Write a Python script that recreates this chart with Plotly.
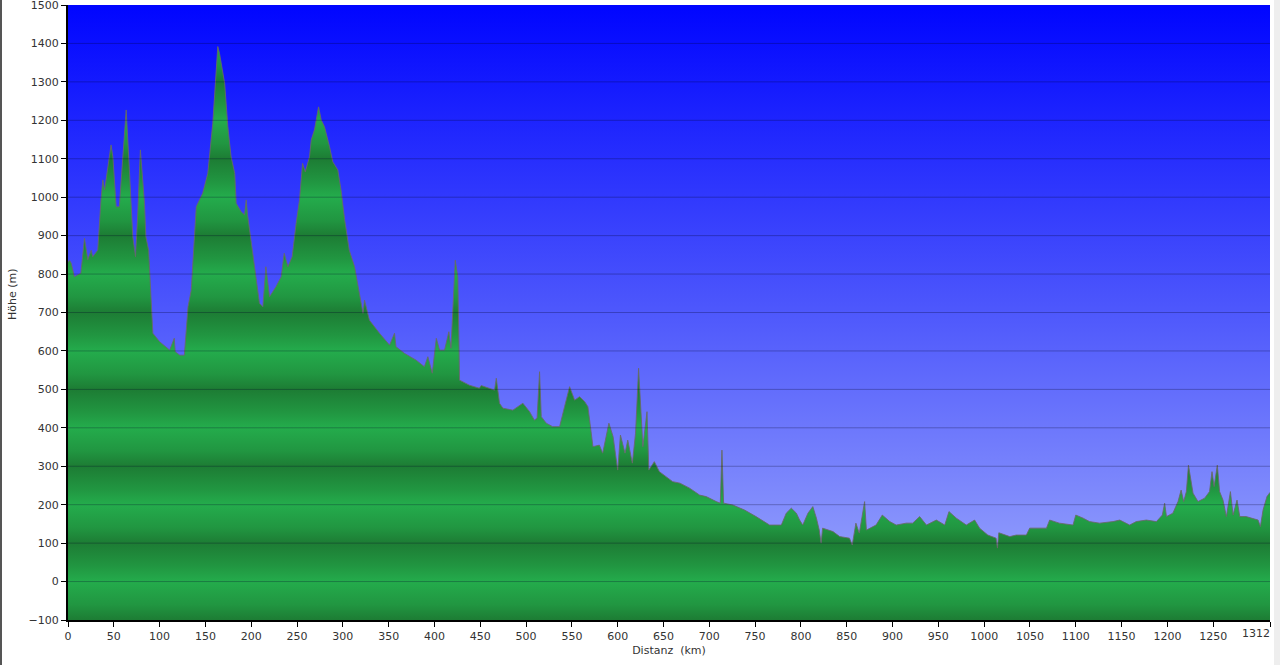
import plotly.graph_objects as go

# ---- data ----
distance_km = [
    0, 1.6, 3.5, 7, 14, 18, 21.6, 25.3, 27, 32.5, 36, 38, 40, 47, 49, 52.6, 56, 59, 63.5, 67,
    70.7, 73.7, 76, 79, 83.5, 85, 88, 92.6, 100, 111, 116, 117, 122, 127, 131, 134.5, 140, 143.5,
    147, 152.6, 158, 163.5, 165.4, 171, 174.5, 178, 182, 183.6, 189, 192.7, 194.5, 196, 200,
    203.6, 209, 212.7, 216, 220, 227, 232.7, 236, 240, 244.7, 249, 252.7, 256, 259, 263.6, 265.5,
    269, 273.5, 276.4, 280, 285.5, 289, 294.5, 298, 302, 307, 312.8, 318, 322, 323.7, 329, 340,
    351, 356.4, 358, 367, 380, 389, 392.8, 397.6, 402, 405.6, 411, 415.7, 418, 422.7, 425.5,
    427.4, 438, 449, 451, 465.6, 467.5, 471, 474.7, 485.6, 496.5, 503.8, 509, 512, 514.7, 516.6,
    522, 529, 536.6, 542, 547.5, 553, 558.4, 564, 567.5, 573, 580, 583.6, 590.4, 595, 600, 603,
    608, 611, 616, 619.5, 622.8, 627.5, 632, 634, 640, 645.5, 653, 660, 668, 678.5, 689.4, 696.7,
    707.6, 712, 713.8, 715.6, 725.8, 738.5, 751, 765.8, 778.6, 784, 789.5, 795, 798.6, 802,
    807.7, 813, 816.9, 820, 822, 823.7, 835, 842.3, 853, 856, 860, 863.7, 869.5, 871.5, 882,
    888.8, 897, 904, 915, 922, 929.6, 937, 947.8, 957, 961.6, 969.6, 980.5, 989.6, 995, 1004,
    1013, 1014.5, 1016, 1028, 1035, 1046, 1049.7, 1068, 1071.5, 1082, 1097, 1100, 1108, 1115,
    1126, 1140.6, 1148, 1158.8, 1166, 1177, 1188, 1194.5, 1197, 1199, 1206, 1211.6, 1215,
    1217.8, 1220.7, 1223, 1228, 1233.4, 1240.7, 1246, 1248.7, 1251, 1254.5, 1257, 1260.7,
    1264.4, 1268.8, 1271.7, 1276, 1279, 1286, 1291.6, 1299, 1301.5, 1304.4, 1308.7, 1311, 1312,
]
elevation_m = [
    830, 836, 828, 793, 802, 893, 837, 862, 845, 862, 993, 1045, 1019, 1136, 1105, 975, 975, 1088, 1227, 1071,
    897, 845, 949, 1123, 984, 897, 862, 646, 624, 602, 633, 598, 589, 589, 715, 758, 975, 993,
    1010, 1062, 1192, 1392, 1374, 1296, 1183, 1105, 1062, 984, 962, 954, 993, 954, 880,
    819, 724, 715, 819, 741, 767, 793, 854, 819, 845, 932, 993, 1088, 1066, 1105, 1149,
    1175, 1235, 1201, 1183, 1131, 1092, 1071, 1019, 941, 862, 819, 750, 698, 732, 680, 646,
    615, 646, 611, 594, 576, 559, 585, 542, 633, 602, 602, 650, 607, 836, 793,
    524, 511, 503, 510, 498, 529, 464, 451, 446, 464, 442, 420, 425, 546, 429,
    412, 403, 403, 455, 507, 472, 481, 468, 455, 351, 355, 334, 412, 377, 290, 381,
    334, 368, 308, 386, 555, 351, 442, 290, 312, 286, 273, 260, 256, 243, 225, 221,
    208, 204, 342, 204, 199, 186, 169, 147, 147, 178, 191, 178, 160, 147,
    178, 195, 165, 134, 100, 139, 130, 117, 113, 95, 152, 126, 208, 134, 147,
    173, 156, 147, 152, 152, 169, 147, 160, 147, 182, 165, 147, 160, 139, 121,
    113, 87, 127, 117, 121, 121, 139, 139, 160, 152, 147, 173, 165, 156,
    152, 156, 160, 147, 156, 160, 156, 173, 204, 169, 178, 208, 238,
    208, 234, 303, 230, 208, 217, 234, 286, 247, 303, 234, 212,
    169, 234, 173, 212, 169, 169, 165, 160, 143, 186, 221, 230, 232,
]
x_ticks = list(range(0, 1251, 50)) + [1312]
x_ticklabels = [str(v) for v in x_ticks]
y_ticks = list(range(-100, 1501, 100))
X_RANGE = [0, 1312]
Y_RANGE = [-100, 1500]

# ---- style ----
FONT = "DejaVu Sans, Verdana, sans-serif"
W, H = 1280, 665
ML, MR, MT, MB = 68, 10, 5, 45
PW = W - ML - MR
PH = H - MT - MB

DARK = "rgb(29,124,52)"
MID = "rgb(33,150,65)"
LIGHT = "rgb(36,172,76)"

# banded green colourscale (dark at odd hundreds, light at even hundreds)
span = Y_RANGE[1] - Y_RANGE[0]
green_scale = []
for v in range(Y_RANGE[0], Y_RANGE[1] + 1, 100):
    pos = (v - Y_RANGE[0]) / span
    odd = (v // 100) % 2 != 0
    green_scale.append([pos, DARK if odd else LIGHT])
    if v < Y_RANGE[1]:
        green_scale.append([(v + 40 - Y_RANGE[0]) / span, MID])

fig = go.Figure()

# blue gradient background
fig.add_trace(go.Scatter(
    x=[X_RANGE[0], X_RANGE[1], X_RANGE[1], X_RANGE[0], X_RANGE[0]],
    y=[Y_RANGE[0], Y_RANGE[0], Y_RANGE[1], Y_RANGE[1], Y_RANGE[0]],
    mode="lines", line=dict(width=0), fill="toself",
    fillgradient=dict(type="vertical", start=Y_RANGE[0], stop=Y_RANGE[1],
                      colorscale=[[0, "rgb(160,172,252)"], [0.5, "rgb(78,88,252)"],
                                  [1, "rgb(0,5,255)"]]),
    hoverinfo="skip", showlegend=False,
))

# baseline for the profile fill
fig.add_trace(go.Scatter(
    x=X_RANGE, y=[Y_RANGE[0], Y_RANGE[0]], mode="lines", line=dict(width=0),
    hoverinfo="skip", showlegend=False,
))

# elevation profile
fig.add_trace(go.Scatter(
    x=distance_km, y=elevation_m, mode="lines",
    line=dict(color="rgba(105,105,105,0.85)", width=1),
    fill="tonexty",
    fillgradient=dict(type="vertical", start=Y_RANGE[0], stop=Y_RANGE[1],
                      colorscale=green_scale),
    showlegend=False,
))

shapes = []
for v in y_ticks[1:-1]:
    shapes.append(dict(type="line", xref="x", yref="y", x0=X_RANGE[0], x1=X_RANGE[1],
                       y0=v, y1=v, layer="above",
                       line=dict(color="rgba(0,0,40,0.28)", width=1)))
# frame decorations of the page
shapes.append(dict(type="line", xref="paper", yref="paper",
                   x0=(1 - ML) / PW, x1=(1 - ML) / PW, y0=-MB / PH,
                   y1=1 + MT / PH, line=dict(color="#555555", width=2)))
shapes.append(dict(type="rect", xref="paper", yref="paper",
                   x0=(1274 - ML) / PW, x1=(1281 - ML) / PW, y0=-MB / PH,
                   y1=1 + MT / PH, line=dict(width=0), fillcolor="#eeeeee"))

# last tick label is right-aligned to its tick (as in the reference)
tick_text_shown = x_ticklabels[:-1] + [""]

fig.update_layout(
    width=W, height=H,
    margin=dict(l=ML, r=MR, t=MT, b=MB, autoexpand=False),
    paper_bgcolor="white", plot_bgcolor="white",
    font=dict(family=FONT, size=11, color="#333333"),
    shapes=shapes,
    xaxis=dict(range=X_RANGE, tickvals=x_ticks, ticktext=tick_text_shown,
               ticks="outside", ticklen=5, tickcolor="black", tickwidth=1,
               showline=True, linecolor="black", linewidth=2,
               showgrid=False, zeroline=False, ticklabeloverflow="allow",
               automargin=False,
               tickfont=dict(family=FONT, size=11, color="#333333"),
               title=dict(text="Distanz\u00a0 (km)", font=dict(family=FONT, size=11, color="#333333"),
                          standoff=4)),
    yaxis=dict(range=Y_RANGE, tickvals=y_ticks, ticks="outside", ticklen=5,
               tickcolor="black", tickwidth=1, ticklabeloverflow="allow",
               showline=True, linecolor="black", linewidth=2,
               showgrid=False, zeroline=False, automargin=False,
               tickfont=dict(family=FONT, size=11, color="#333333")),
    annotations=[
        dict(text="Höhe (m)", xref="paper", yref="paper", x=0, y=0.53,
             xanchor="center", yanchor="middle", xshift=-56, textangle=-90,
             showarrow=False, font=dict(family=FONT, size=11, color="#333333")),
        dict(text=x_ticklabels[-1], xref="x", yref="paper", x=x_ticks[-1], y=0,
             xanchor="right", yanchor="middle", yshift=-13, xshift=2,
             showarrow=False, font=dict(family=FONT, size=11, color="#333333")),
    ],
)

fig.write_html("out.html", config={"displayModeBar": False},
               post_script="document.body.style.margin='0px';")
